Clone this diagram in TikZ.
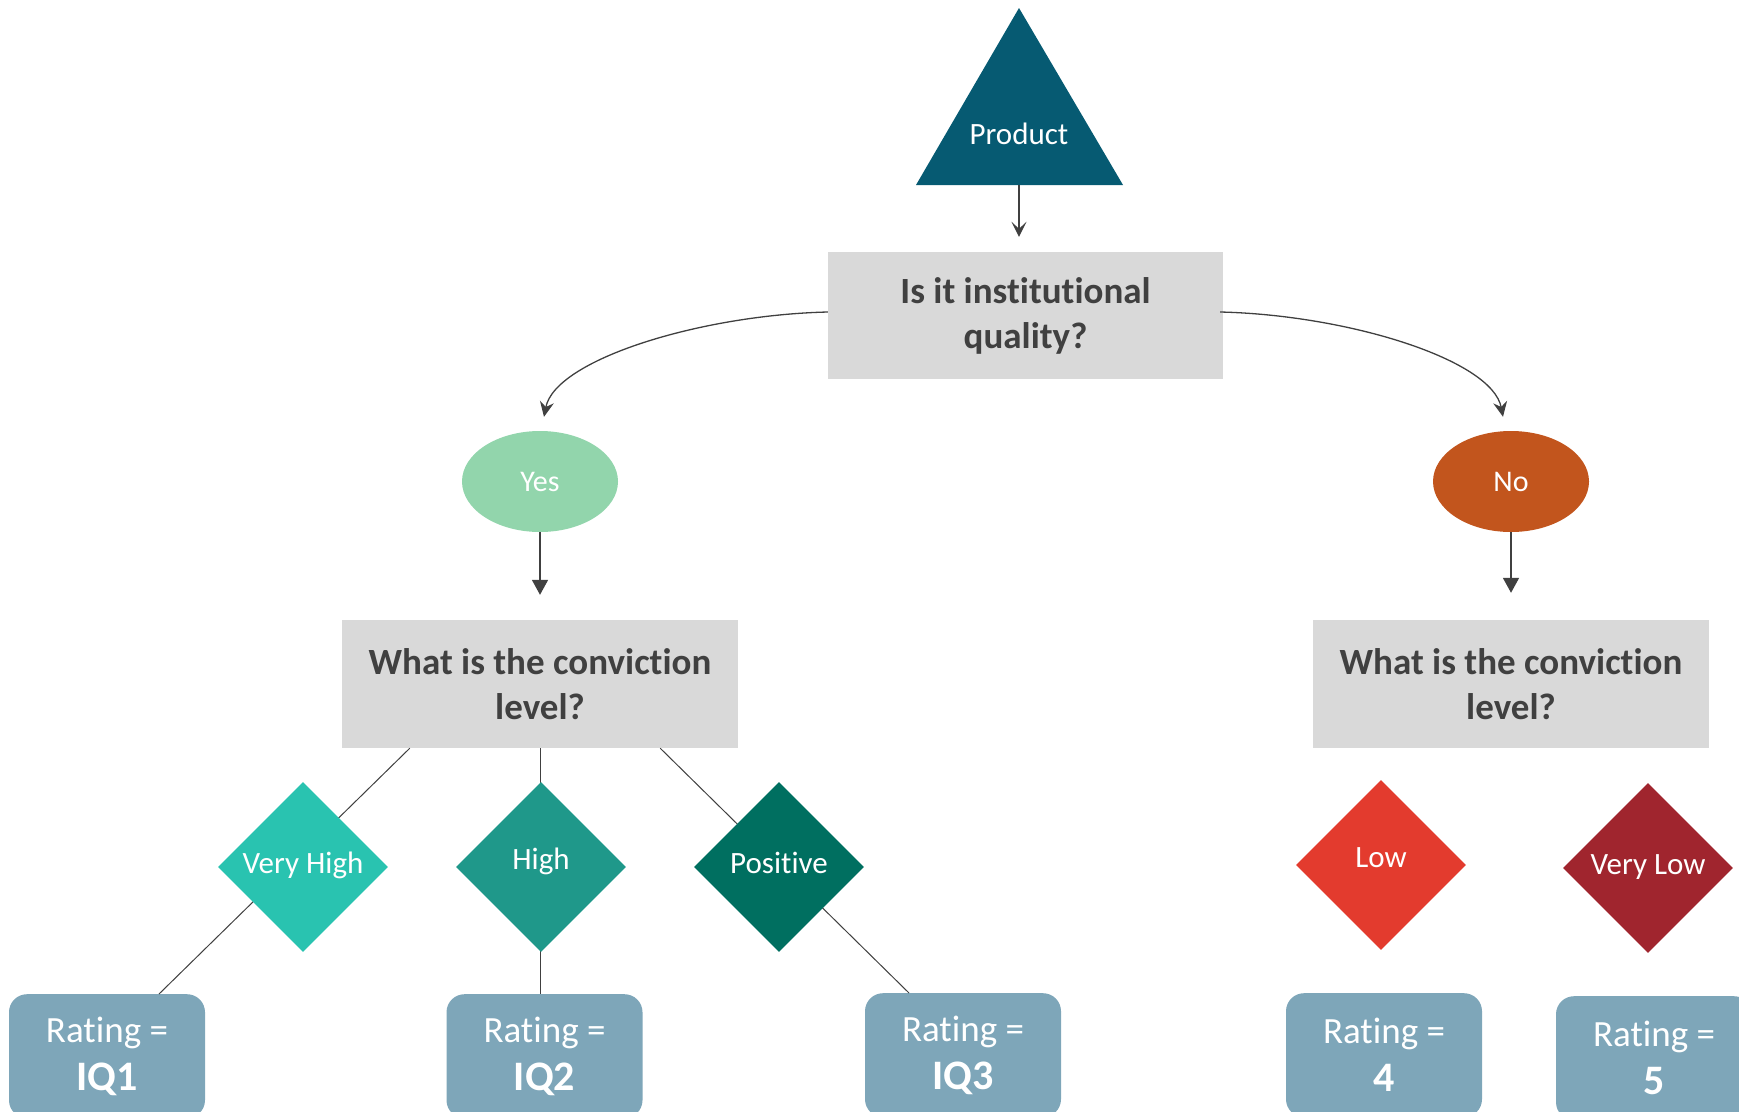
\documentclass[tikz,border=0pt]{standalone}
\usepackage{fontspec}
\setmainfont{Carlito}[Ligatures={NoCommon}]
\usetikzlibrary{shapes.geometric,arrows.meta,backgrounds,calc}
\definecolor{trifill}{HTML}{065A72}
\definecolor{qgray}{HTML}{D9D9D9}
\definecolor{qtext}{HTML}{404040}
\definecolor{yesc}{HTML}{92D5AC}
\definecolor{noc}{HTML}{C2551D}
\definecolor{vhc}{HTML}{29C3B0}
\definecolor{hic}{HTML}{1F988A}
\definecolor{poc}{HTML}{006F60}
\definecolor{loc}{HTML}{E33B2E}
\definecolor{vlc}{HTML}{A0252E}
\definecolor{ratec}{HTML}{7EA6B9}
\definecolor{linec}{HTML}{404040}
\begin{document}
\begin{tikzpicture}[x=1pt,y=-1pt,
  qbox/.style={rectangle, fill=qgray, text=qtext, font=\bfseries\fontsize{37}{45}\selectfont, align=center, inner sep=0pt, minimum width=396pt, minimum height=128pt},
  ans/.style={ellipse, text=white, font=\fontsize{30}{35}\selectfont, inner sep=0pt, minimum width=156pt, minimum height=101pt},
  dia/.style={diamond, aspect=1, text=white, font=\fontsize{31}{37}\selectfont, inner sep=0pt, minimum width=170pt, minimum height=170pt, text height=19pt, text depth=7pt},
  rate/.style={rectangle, rounded corners=18pt, fill=ratec, text=white, align=center, inner sep=0pt, minimum width=196pt, minimum height=124pt, anchor=north, font=\fontsize{37}{48}\selectfont},
  conn/.style={draw=linec, line width=1pt},
  carr/.style={draw=linec, line width=1.3pt, -{Stealth[length=15pt,width=14pt,inset=5pt]}},
  varr/.style={draw=linec, line width=1.3pt, -{Stealth[length=15pt,width=15pt,inset=7pt]}},
  tarr/.style={draw=linec, line width=1.7pt, -{Triangle[length=15pt,width=16pt]}}
]
\useasboundingbox (0,0) rectangle (1739,1111);

% triangle
\fill[trifill] (1019,8) -- (1123,185) -- (916,185) -- cycle;
\coordinate (tribase) at (1019,185);
\node[text=white, font=\fontsize{31}{36}\selectfont] (prod) at (1019,134) {Product};

% question boxes
\node[qbox, minimum width=395pt, minimum height=127pt] (q1) at (1025.5,315.5) {Is it institutional\\quality?};
\node[qbox] (convL) at (540,684) {What is the conviction\\level?};
\node[qbox] (convR) at (1511,684) {What is the conviction\\level?};

% answers
\node[ans, fill=yesc] (yes) at (540,481.5) {Yes};
\node[ans, fill=noc] (no) at (1511,481.5) {No};

% rating boxes
\node[rate] (r1) at (107,994) {Rating =\\{\bfseries\fontsize{42}{48}\selectfont IQ1}};
\node[rate] (r2) at (544.5,994) {Rating =\\{\bfseries\fontsize{42}{48}\selectfont IQ2}};
\node[rate] (r3) at (963,993) {Rating =\\{\bfseries\fontsize{42}{48}\selectfont IQ3}};
\node[rate] (r4) at (1384,993) {Rating =\\{\bfseries\fontsize{42}{48}\selectfont 4}};
\node[rate] (r5) at (1654,996) {Rating =\\{\bfseries\fontsize{42}{48}\selectfont 5}};

% connectors behind diamonds
\draw[conn] ($(convL.south west)+(68,0)$) -- ($(r1.north)+(52,0)$);
\draw[conn] (convL.south) -- (convL.south |- r2.north);
\draw[conn] ($(convL.south east)+(-78,0)$) -- ($(r3.north)+(-54,0)$);
\draw[conn] ($(convR.south west)+(66,0)$) -- ($(convR.south west)+(66,0)$ |- r4.north);
\draw[conn] ($(convR.south east)+(-60,0)$) -- ($(convR.south east)+(-60,0)$ |- r5.north);

% diamonds
\node[dia, fill=vhc] (vh) at (303,867) {Very High};
\node[dia, fill=hic, text depth=15pt] (hi) at (541,867) {High};
\node[dia, fill=poc] (po) at (779,867) {Positive};
\node[dia, fill=loc, text depth=15pt] (lo) at (1381,865) {Low};
\node[dia, fill=vlc] (vl) at (1648,868) {Very Low};

% arrows
\draw[varr, shorten >=15pt] (tribase) -- (tribase |- q1.north);
\draw[carr] ($(q1.west)+(0,-3.5)$) .. controls +(-128,3) and +(11,-57) .. ($(yes.north)+(4,-14)$);
\draw[carr] ($(q1.east)+(-3,-3.5)$) .. controls +(128,3) and +(-11,-57) .. ($(no.north)+(-8,-14)$);
\draw[tarr, shorten >=25pt] (yes.south) -- (yes.south |- convL.north);
\draw[tarr, shorten >=27pt] (no.south) -- (no.south |- convR.north);
\end{tikzpicture}
\end{document}
